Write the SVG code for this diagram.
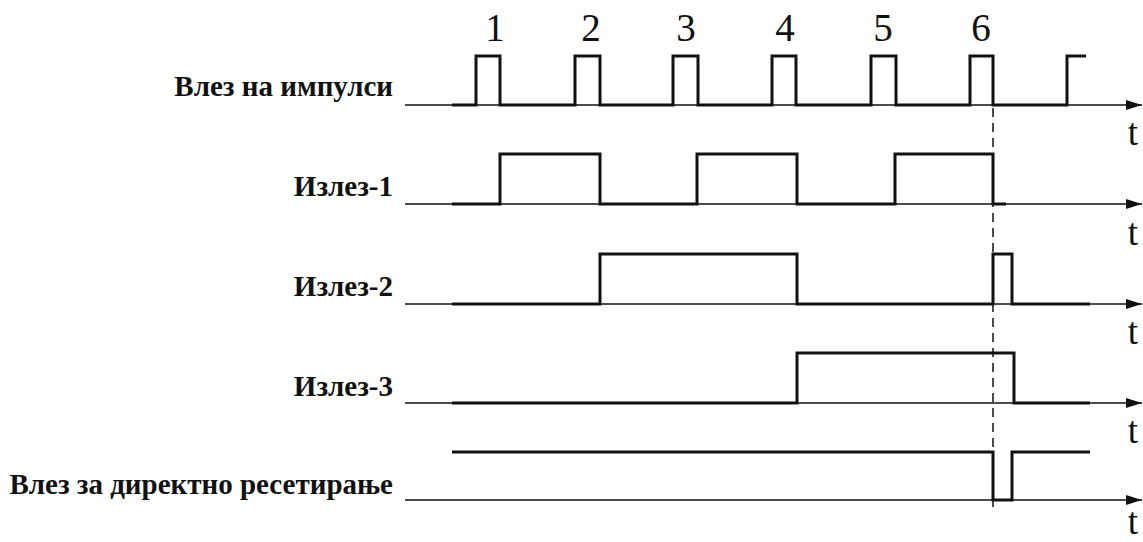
<svg xmlns="http://www.w3.org/2000/svg" width="1143" height="542" viewBox="0 0 1143 542">
<style>
.lbl{font-family:"Liberation Serif","Times New Roman",serif;font-weight:bold;font-size:29px;fill:#111;text-anchor:end}
.num{font-family:"Liberation Serif","Times New Roman",serif;font-size:39px;fill:#111;text-anchor:middle}
.t{font-family:"Liberation Serif","Times New Roman",serif;font-size:37px;fill:#111;text-anchor:middle}
.ax{stroke:#111;stroke-width:1.6;fill:none}
.wv{stroke:#111;stroke-width:3;fill:none;stroke-linejoin:miter}
.dash{stroke:#111;stroke-width:1.5;stroke-dasharray:9 6;fill:none}
</style>
<defs>
<marker id="arr" viewBox="0 0 16 10" refX="16" refY="5" markerWidth="16" markerHeight="10" markerUnits="userSpaceOnUse" orient="auto">
<path d="M0,0 L16,5 L0,10 Z" fill="#111"/>
</marker>
</defs>
<rect width="1143" height="542" fill="#fff"/>
<g id="numbers">
<text class="num" x="495" y="41">1</text>
<text class="num" x="591" y="41">2</text>
<text class="num" x="686" y="41">3</text>
<text class="num" x="785" y="41">4</text>
<text class="num" x="883" y="41">5</text>
<text class="num" x="981" y="41">6</text>
</g>
<g id="labels">
<text class="lbl" x="393" y="96">Влез на импулси</text>
<text class="lbl" x="393" y="196">Излез-1</text>
<text class="lbl" x="393" y="296">Излез-2</text>
<text class="lbl" x="393" y="396">Излез-3</text>
<text class="lbl" x="393" y="494">Влез за директно ресетирање</text>
</g>
<g id="connectors">
<line class="ax" x1="405" y1="105" x2="1142" y2="105" marker-end="url(#arr)"/>
<line class="ax" x1="405" y1="204" x2="1142" y2="204" marker-end="url(#arr)"/>
<line class="ax" x1="405" y1="304" x2="1142" y2="304" marker-end="url(#arr)"/>
<line class="ax" x1="405" y1="403" x2="1142" y2="403" marker-end="url(#arr)"/>
<line class="ax" x1="405" y1="500" x2="1142" y2="500" marker-end="url(#arr)"/>
<line class="dash" x1="993" y1="108" x2="993" y2="508"/>
</g>
<g id="wave-input">
<polyline class="wv" points="452,105 476,105 476,56 500,56 500,105 575,105 575,56 600,56 600,105 673,105 673,56 698,56 698,105 772,105 772,56 796,56 796,105 871,105 871,56 896,56 896,105 970,105 970,56 993,56 993,105 1067,105 1067,56 1086,56"/>
</g>
<g id="wave-out1">
<polyline class="wv" points="452,204 500,204 500,154 600,154 600,204 697,204 697,154 797,154 797,204 895,204 895,154 993,154 993,204 1006,204"/>
</g>
<g id="wave-out2">
<polyline class="wv" points="452,304 600,304 600,254 797,254 797,304 993,304 993,254 1012,254 1012,304 1090,304"/>
</g>
<g id="wave-out3">
<polyline class="wv" points="452,403 797,403 797,353 1014,353 1014,403 1090,403"/>
</g>
<g id="wave-reset">
<polyline class="wv" points="452,452 993,452 993,500 1012,500 1012,452 1090,452"/>
</g>
<g id="t-labels">
<text class="t" x="1133" y="145">t</text>
<text class="t" x="1133" y="245">t</text>
<text class="t" x="1133" y="344">t</text>
<text class="t" x="1133" y="443">t</text>
<text class="t" x="1133" y="534">t</text>
</g>
</svg>
